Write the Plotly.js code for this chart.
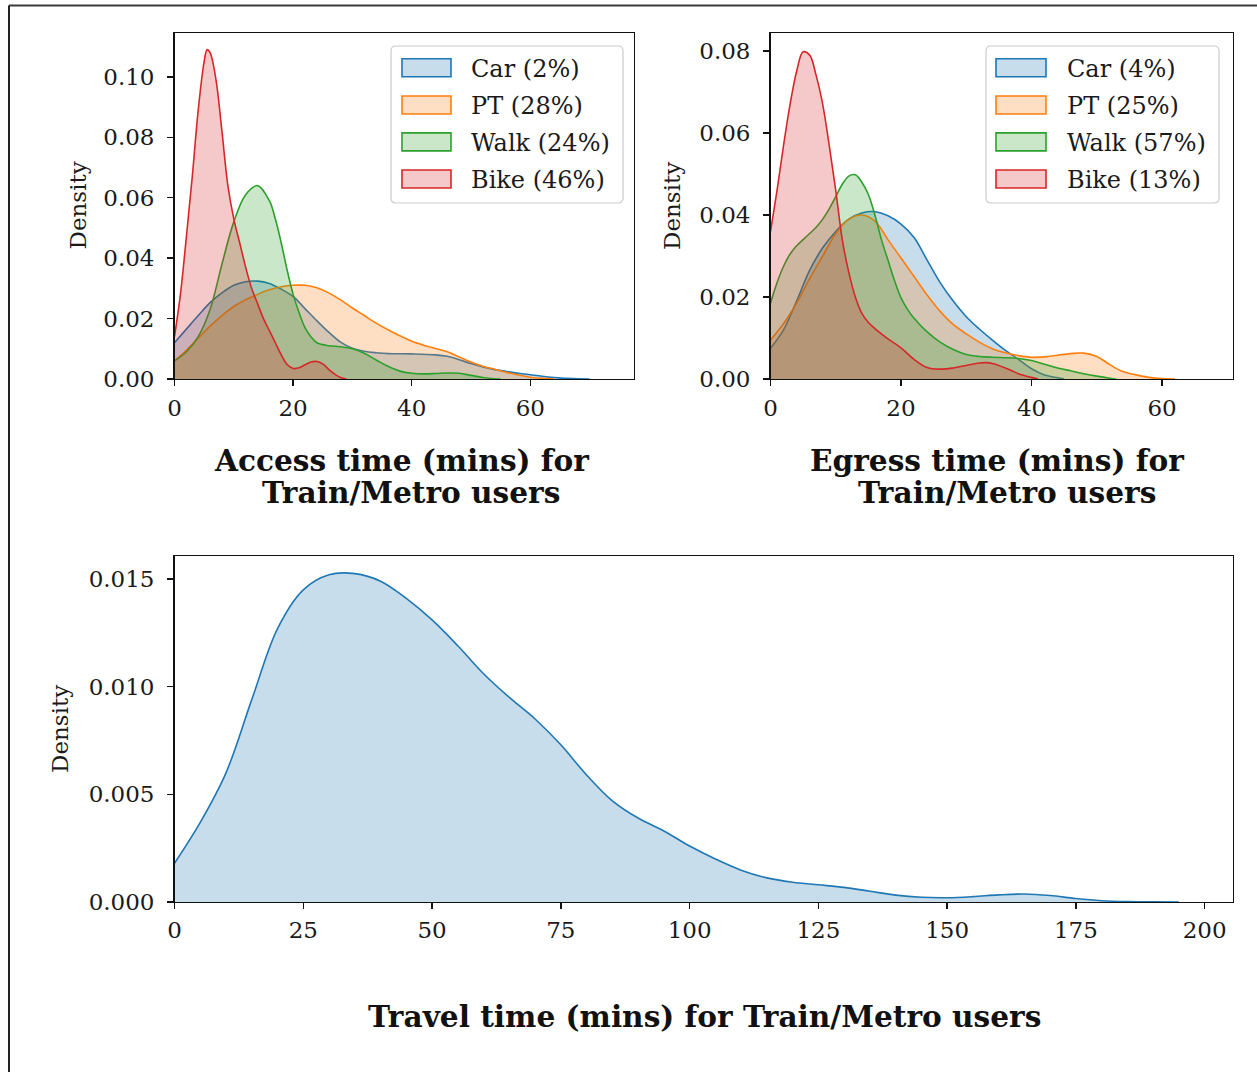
<!DOCTYPE html>
<html>
<head>
<meta charset="utf-8">
<script src="https://cdn.plot.ly/plotly-3.0.1.min.js"></script>
<style>html,body{margin:0;padding:0;background:#fff;}#chart{width:1257px;height:1072px;}</style>
</head>
<body>
<div id="chart"></div>
<script>
// ---------- DATA ----------
const modes = ["Car", "PT", "Walk", "Bike"];
const accessShares = ["2%", "28%", "24%", "46%"];
const egressShares = ["4%", "25%", "57%", "13%"];

const accessCarX = [0,2,4,6,8,10,12,14,16,18,20,22,24,26,28,30,32,34,36,40,44,46,48,50,52,54,56,58,60,62,64,66,68,70];
const accessCarY = [0.012,0.0165,0.021,0.0253,0.0285,0.031,0.0322,0.0324,0.0316,0.0297,0.0273,0.0233,0.0193,0.0155,0.0122,0.0102,0.0092,0.0087,0.0084,0.0083,0.0080,0.0075,0.0064,0.0051,0.0040,0.0031,0.0025,0.0019,0.0014,0.0009,0.0005,0.0002,0.0001,0];

const accessPtX = [0,2,4,6,8,10,12,14,16,18,20,22,24,26,28,30,32,34,36,38,40,42,44,46,48,50,52,54,56,58,60,62,64];
const accessPtY = [0.006,0.0095,0.0135,0.0175,0.021,0.024,0.0262,0.028,0.0295,0.0305,0.031,0.031,0.0302,0.0285,0.0262,0.0235,0.021,0.0185,0.0163,0.0143,0.0125,0.0112,0.0101,0.009,0.0073,0.0056,0.0042,0.0032,0.0022,0.0013,0.0006,0.0002,0];

const accessWalkX = [0,2,4,6,8,10,12,14,16,17,18,19,20,21,22,23,24,26,28,30,32,34,36,38,40,42,44,46,48,50,52,54,55];
const accessWalkY = [0.006,0.009,0.014,0.023,0.038,0.052,0.061,0.064,0.059,0.053,0.045,0.036,0.028,0.022,0.017,0.014,0.012,0.011,0.0107,0.0100,0.0085,0.0063,0.0042,0.0026,0.0019,0.0017,0.0018,0.0020,0.0019,0.0012,0.0005,0.0001,0];

const accessBikeX = [0,1,2,3,4,5,5.5,6,7,8,9,10,11,12,13,14,15,16,17,18,19,20,21,22,23,24,25,26,27,28,29];
const accessBikeY = [0.014,0.028,0.047,0.067,0.089,0.105,0.109,0.108,0.099,0.082,0.064,0.053,0.045,0.037,0.030,0.025,0.020,0.016,0.012,0.008,0.0048,0.0035,0.0037,0.0047,0.0056,0.0058,0.005,0.0032,0.0016,0.0005,0];

const egressCarX = [0,2,4,6,8,10,12,14,16,18,20,22,24,26,28,30,32,34,36,38,40,42,44,45];
const egressCarY = [0.0075,0.012,0.019,0.0265,0.032,0.036,0.039,0.0405,0.0408,0.0398,0.0378,0.0345,0.029,0.0235,0.019,0.0152,0.0122,0.0095,0.007,0.0048,0.0025,0.001,0.0003,0];

const egressPtX = [0,2,4,6,8,10,12,14,16,18,20,22,24,26,28,30,32,34,36,38,40,42,44,46,48,50,52,54,56,58,60,62];
const egressPtY = [0.0095,0.0135,0.0185,0.0245,0.030,0.0355,0.039,0.040,0.0385,0.034,0.0295,0.025,0.0205,0.0165,0.0133,0.011,0.009,0.0074,0.0064,0.0057,0.0053,0.0054,0.0058,0.0062,0.0063,0.0055,0.0035,0.0018,0.001,0.0004,0.0001,0];

const egressWalkX = [0,1,2,3,4,5,6,7,8,9,10,11,12,13,14,15,16,17,18,19,20,21,22,24,26,28,30,32,34,36,38,40,42,44,46,48,50,52,53];
const egressWalkY = [0.0185,0.0235,0.0275,0.0305,0.0325,0.034,0.0355,0.037,0.039,0.0415,0.0445,0.0475,0.0495,0.0498,0.048,0.045,0.040,0.034,0.029,0.024,0.0198,0.017,0.0148,0.0115,0.009,0.0072,0.006,0.0055,0.0053,0.0052,0.005,0.0045,0.0036,0.0027,0.002,0.0013,0.0007,0.0002,0];

const egressBikeX = [0,1,2,3,4,5,6,7,8,9,10,11,12,13,14,15,16,17,18,20,22,24,26,28,30,32,33,34,36,38,40,41];
const egressBikeY = [0.036,0.046,0.057,0.067,0.075,0.0798,0.079,0.074,0.067,0.057,0.046,0.034,0.026,0.020,0.016,0.0138,0.0123,0.011,0.0098,0.0076,0.0048,0.0028,0.0024,0.0027,0.0033,0.0039,0.004,0.0038,0.0027,0.0013,0.0004,0];

const travelX = [0,5,10,15,20,25,30,35,40,45,50,55,60,65,70,75,80,85,90,95,100,105,110,115,120,125,130,135,140,145,150,155,160,165,170,175,180,185,190,195];
const travelY = [0.0018,0.0037,0.006,0.0094,0.0127,0.0145,0.0152,0.01525,0.0149,0.0141,0.0131,0.0119,0.0106,0.0095,0.0085,0.0073,0.0059,0.0047,0.0039,0.0033,0.0026,0.0020,0.00148,0.00112,0.00092,0.0008,0.00068,0.0005,0.00032,0.00022,0.0002,0.00025,0.00033,0.00037,0.0003,0.00016,0.00006,0.00002,0.00001,0];

const xTicksTop = [0,20,40,60];
const yTicksAccess = [0,0.02,0.04,0.06,0.08,0.10];
const yTicksEgress = [0,0.02,0.04,0.06,0.08];
const xTicksTravel = [0,25,50,75,100,125,150,175,200];
const yTicksTravel = [0,0.005,0.010,0.015];

// ---------- STYLE ----------
const colors = ["#1f77b4", "#ff7f0e", "#2ca02c", "#d62728"];
function rgba(hex, a){const n=parseInt(hex.slice(1),16);return `rgba(${(n>>16)&255},${(n>>8)&255},${n&255},${a})`;}
const FONT = "'DejaVu Serif', 'Liberation Serif', serif";
const W = 1257, H = 1072;
const PX = x => x / W;
const PY = y => 1 - y / H;

function kde(x, y, c, xa, ya){
  return {x:x, y:y, type:'scatter', mode:'lines', xaxis:xa, yaxis:ya,
    line:{color:c, width:1.6, shape:'spline', smoothing:1},
    fill:'tozeroy', fillcolor:rgba(c,0.25), hoverinfo:'skip', showlegend:false};
}

const accessX = [accessCarX, accessPtX, accessWalkX, accessBikeX];
const accessY = [accessCarY, accessPtY, accessWalkY, accessBikeY];
const egressX = [egressCarX, egressPtX, egressWalkX, egressBikeX];
const egressY = [egressCarY, egressPtY, egressWalkY, egressBikeY];

const traces = [];
for (let i=0;i<4;i++) traces.push(kde(accessX[i], accessY[i], colors[i], 'x', 'y'));
for (let i=0;i<4;i++) traces.push(kde(egressX[i], egressY[i], colors[i], 'x2', 'y2'));
traces.push(kde(travelX, travelY, colors[0], 'x3', 'y3'));

function axis(extra){
  return Object.assign({showline:true, linecolor:'#111', linewidth:1.4, mirror:true,
    ticks:'outside', ticklen:6, tickwidth:1.4, tickcolor:'#111',
    showgrid:false, zeroline:false, fixedrange:true,
    tickfont:{family:FONT, size:23, color:'#1a1a1a'}}, extra);
}

const layout = {
  width:W, height:H, margin:{l:0,r:0,t:0,b:0},
  paper_bgcolor:'#fff', plot_bgcolor:'#fff', showlegend:false,
  xaxis: axis({domain:[PX(174.5),PX(633.5)], anchor:'y', range:[0,77.4], tickvals:xTicksTop, ticklabelstandoff:2}),
  yaxis: axis({domain:[PY(379),PY(33)], anchor:'x', range:[0,0.1145], tickvals:yTicksAccess, tickformat:'.2f', ticklabelstandoff:8}),
  xaxis2: axis({domain:[PX(770.5),PX(1232.5)], anchor:'y2', range:[0,70.8], tickvals:xTicksTop, ticklabelstandoff:2}),
  yaxis2: axis({domain:[PY(379),PY(33)], anchor:'x2', range:[0,0.0844], tickvals:yTicksEgress, tickformat:'.2f', ticklabelstandoff:8}),
  xaxis3: axis({domain:[PX(174.5),PX(1232.5)], anchor:'y3', range:[0,205.4], tickvals:xTicksTravel, ticklabelstandoff:1}),
  yaxis3: axis({domain:[PY(902),PY(556)], anchor:'x3', range:[0,0.01607], tickvals:yTicksTravel, tickformat:'.3f', ticklabelstandoff:8}),
  shapes:[], annotations:[]
};

// figure frame (top and left edges visible in the reference)
layout.shapes.push({type:'line', xref:'paper', yref:'paper', x0:PX(9), x1:PX(1257), y0:PY(5.5), y1:PY(5.5), line:{color:'#3a3a3a', width:2}});
layout.shapes.push({type:'line', xref:'paper', yref:'paper', x0:PX(9), x1:PX(9), y0:PY(5.5), y1:PY(1072), line:{color:'#222', width:2}});

// legends (drawn manually to match matplotlib style)
function roundedBox(x0,y0,x1,y1,r){
  const p = (x,y)=>`${PX(x)},${PY(y)}`;
  return `M${p(x0+r,y0)} L${p(x1-r,y0)} Q${p(x1,y0)} ${p(x1,y0+r)} L${p(x1,y1-r)} Q${p(x1,y1)} ${p(x1-r,y1)} L${p(x0+r,y1)} Q${p(x0,y1)} ${p(x0,y1-r)} L${p(x0,y0+r)} Q${p(x0,y0)} ${p(x0+r,y0)} Z`;
}
function legend(boxX0, boxX1, swX0, swX1, textX, shares){
  layout.shapes.push({type:'path', xref:'paper', yref:'paper', path:roundedBox(boxX0,46,boxX1,203,5),
    fillcolor:'rgba(255,255,255,0.8)', line:{color:'#cccccc', width:1.2}});
  const rows = [67.7, 105, 141.9, 179];
  for (let i=0;i<4;i++){
    const cy = rows[i];
    layout.shapes.push({type:'rect', xref:'paper', yref:'paper', x0:PX(swX0), x1:PX(swX1), y0:PY(cy+9), y1:PY(cy-9),
      fillcolor:rgba(colors[i],0.25), line:{color:colors[i], width:1.6}});
    layout.annotations.push({xref:'paper', yref:'paper', x:PX(textX), y:PY(cy+1), xanchor:'left', yanchor:'middle',
      text:`${modes[i]} (${shares[i]})`, showarrow:false, font:{family:FONT, size:24, color:'#1a1a1a'}});
  }
}
legend(391, 623, 402, 451, 469, accessShares);
legend(986, 1219, 996, 1046, 1065, egressShares);

// axis labels
function ylab(x, y){
  layout.annotations.push({xref:'paper', yref:'paper', x:PX(x), y:PY(y), xanchor:'center', yanchor:'middle',
    text:'Density', textangle:-90, showarrow:false, font:{family:FONT, size:23, color:'#1a1a1a'}});
}
ylab(77.5, 206); ylab(672, 206); ylab(60, 729);

function xlab(x, y, text){
  layout.annotations.push({xref:'paper', yref:'paper', x:PX(x), y:PY(y), xanchor:'center', yanchor:'middle',
    text:'<b>' + text + '</b>', showarrow:false, align:'center', font:{family:FONT, size:29.6, color:'#111'}});
}
xlab(401.5, 460, 'Access time (mins) for');
xlab(411, 493, 'Train/Metro users');
xlab(996.5, 460, 'Egress time (mins) for');
xlab(1007, 493, 'Train/Metro users');
xlab(704.5, 1016, 'Travel time (mins) for Train/Metro users');

Plotly.newPlot('chart', traces, layout, {displayModeBar:false, staticPlot:true});
</script>
</body>
</html>
